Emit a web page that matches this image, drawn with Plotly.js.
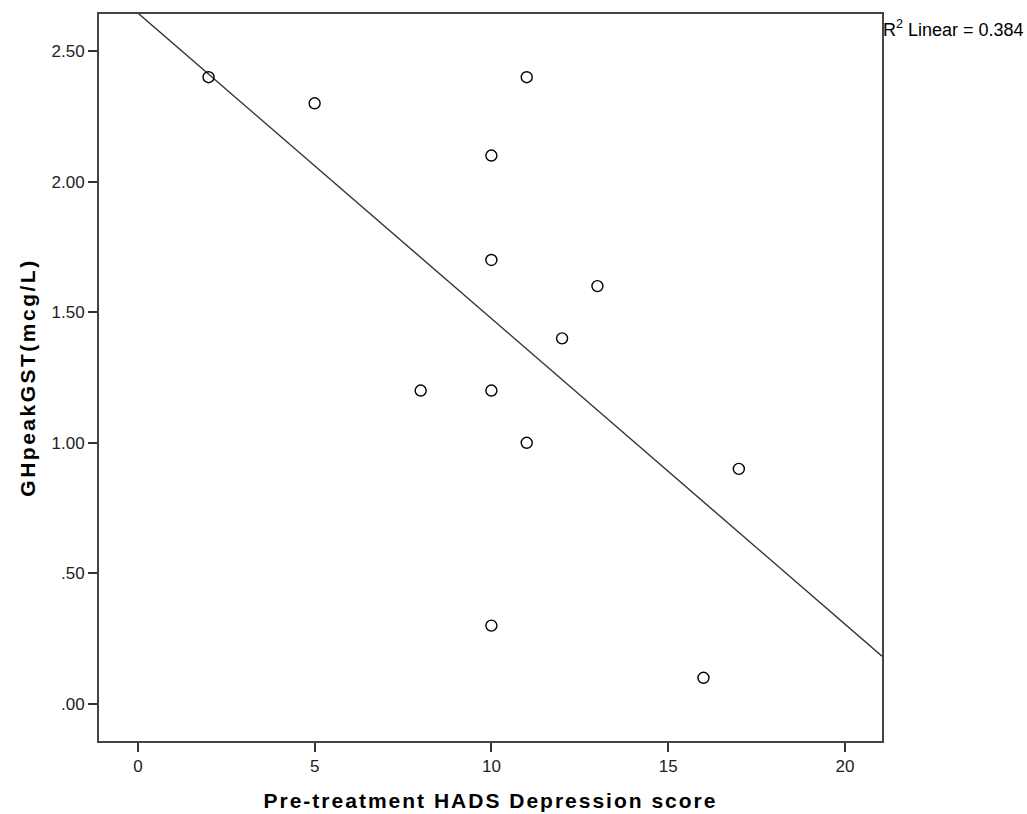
<!DOCTYPE html>
<html><head><meta charset="utf-8">
<script src="https://cdn.plot.ly/plotly-3.0.1.min.js"></script>
<style>body{margin:0;background:#fff}#chart{width:1027px;height:814px}
.xtitle{letter-spacing:2px}
.ytitle{letter-spacing:2.5px}</style>
</head><body><div id="chart"></div>
<script>
const depressionScore = [2, 5, 11, 10, 10, 13, 12, 8, 10, 11, 17, 10, 16];
const ghPeak = [2.4, 2.3, 2.4, 2.1, 1.7, 1.6, 1.4, 1.2, 1.2, 1.0, 0.9, 0.3, 0.1];
const yTickVals = [0, 0.5, 1.0, 1.5, 2.0, 2.5];
const yTickText = ['.00', '.50', '1.00', '1.50', '2.00', '2.50'];
const xTickVals = [0, 5, 10, 15, 20];

const xRange = [-1.1, 21.05];
const yRange = [-0.142, 2.642];

// least squares fit
const n = depressionScore.length;
const mx = depressionScore.reduce((a,b)=>a+b,0)/n;
const my = ghPeak.reduce((a,b)=>a+b,0)/n;
let sxy=0, sxx=0, syy=0;
for (let i=0;i<n;i++){const dx=depressionScore[i]-mx, dy=ghPeak[i]-my; sxy+=dx*dy; sxx+=dx*dx; syy+=dy*dy;}
const slope = sxy/sxx, intercept = my - slope*mx;
const r2 = (sxy*sxy)/(sxx*syy);
const lineX = [xRange[0], xRange[1]];
const lineY = lineX.map(x => intercept + slope*x);

const FONT = 'Arial, "Liberation Sans", sans-serif';
const traces = [
  {x: lineX, y: lineY, mode: 'lines', line: {color: '#333', width: 1.4}, hoverinfo: 'skip', showlegend: false},
  {x: depressionScore, y: ghPeak, mode: 'markers', showlegend: false,
   marker: {symbol: 'circle-open', size: 11, color: '#000', line: {width: 1.4, color: '#000'}}}
];

const layout = {
  width: 1027, height: 814,
  paper_bgcolor: '#fff', plot_bgcolor: '#fff',
  margin: {l: 99, r: 145, t: 14, b: 73},
  font: {family: FONT, color: '#000', size: 17},
  xaxis: {range: xRange, tickvals: xTickVals, ticks: 'outside', ticklen: 9, tickcolor: '#333', tickwidth: 2,
          showgrid: false, zeroline: false, showline: true, linecolor: '#444', linewidth: 2, mirror: true,
          tickfont: {size: 17, color: '#222'},
          title: {text: 'Pre-treatment HADS Depression score', font: {size: 21, color: '#000', family: FONT, weight: 'bold'}, standoff: 18}},
  yaxis: {range: yRange, tickvals: yTickVals, ticktext: yTickText, ticks: 'outside', ticklen: 9, tickcolor: '#333', tickwidth: 2,
          showgrid: false, zeroline: false, showline: true, linecolor: '#444', linewidth: 2, mirror: true,
          tickfont: {size: 17, color: '#222'},
          title: {text: 'GHpeakGST(mcg/L)', font: {size: 21, color: '#000', family: FONT, weight: 'bold'}, standoff: 10}},
  annotations: [{xref: 'paper', yref: 'paper', x: 1, y: 1, xanchor: 'left', yanchor: 'top', yshift: -1, xshift: -1,
    showarrow: false, text: 'R<sup>2</sup> Linear = ' + r2.toFixed(3), font: {size: 18, color: '#000'}}]
};
Plotly.newPlot('chart', traces, layout, {displayModeBar: false});
</script></body></html>
